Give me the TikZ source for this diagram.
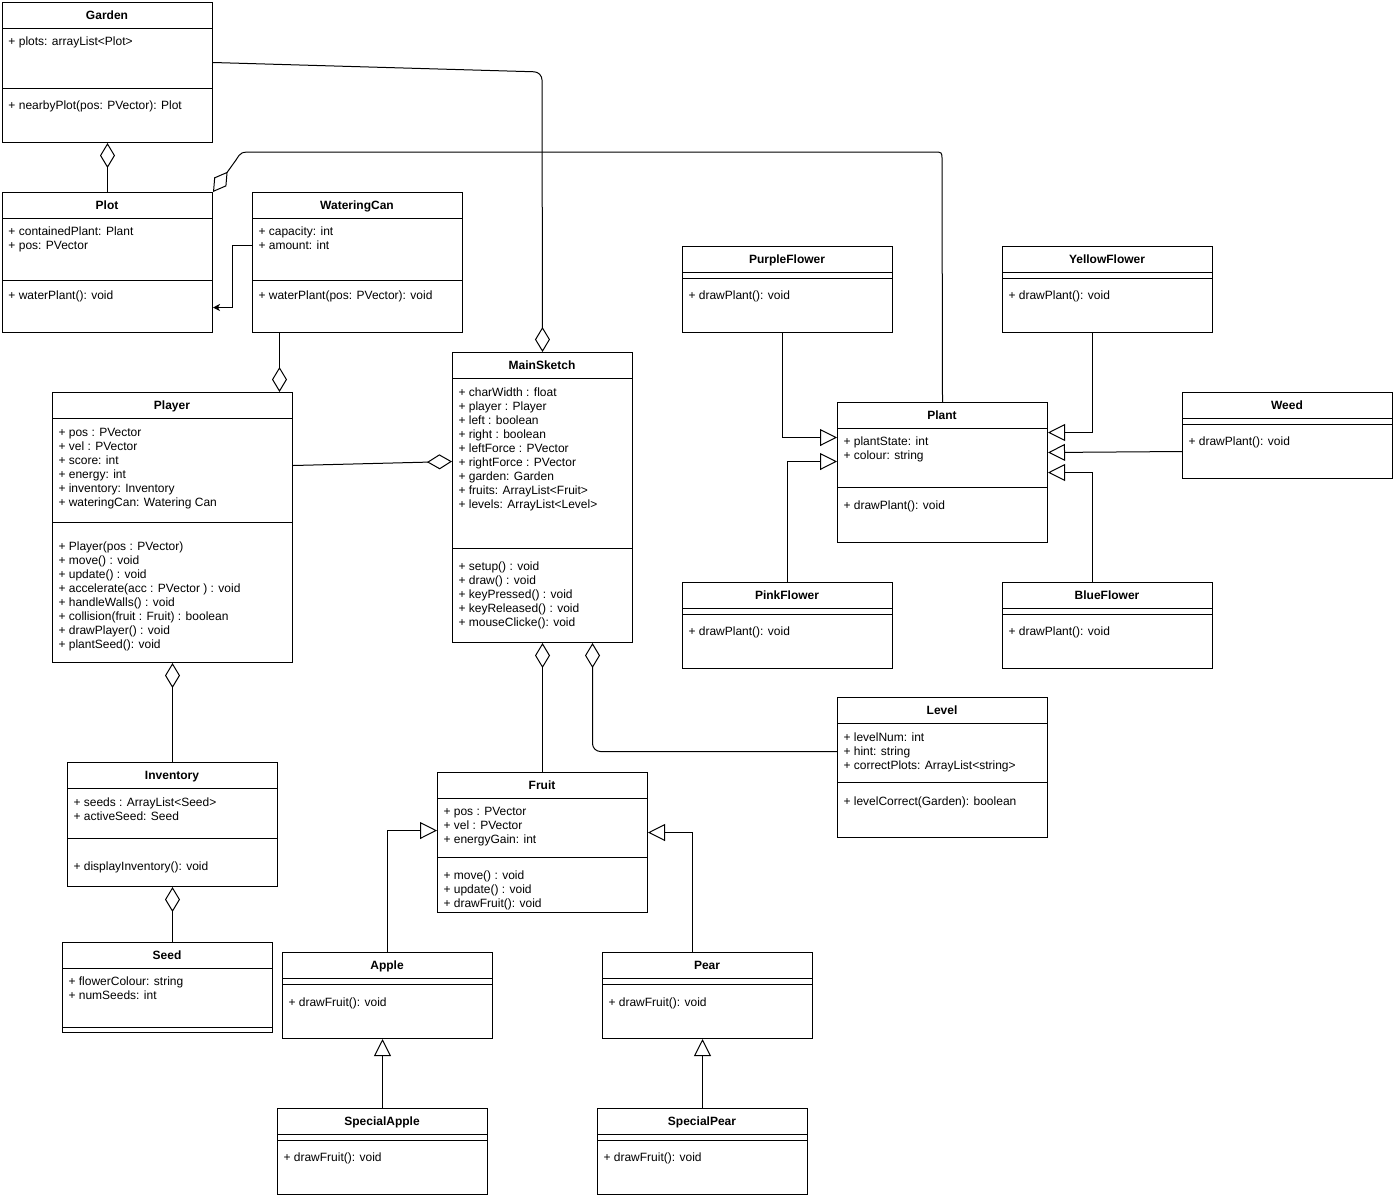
\documentclass[tikz,border=0pt]{standalone}
\usepackage{fontspec}
\setmainfont{Liberation Sans}
\usetikzlibrary{arrows.meta}

\begin{document}
\begin{tikzpicture}[x=1pt, y=-1pt, line width=1pt,
  every node/.style={font=\fontsize{12}{14}\selectfont},
  cls/.style={draw, line width=1pt, anchor=north west, inner sep=0pt},
  ttl/.style={font=\fontsize{12}{14}\selectfont\bfseries, inner sep=0pt,
    text height=8.6pt, text depth=0pt},
  mem/.style={anchor=base west, inner sep=0pt, align=left},
  aggr/.style={{Diamond[open,length=25pt,width=15pt]}-},
  haslink/.style={-{Diamond[open,length=25pt,width=15pt]}},
  inherit/.style={-{Triangle[open,length=17pt,width=17pt]}},
  assoc/.style={-{Stealth[length=7pt,width=7pt,inset=2pt]}}]
\fill[white] (0,0) rectangle (1396,1200);
\useasboundingbox (0,0) rectangle (1396,1200);

% Garden
\node[cls, minimum width=210, minimum height=140] (garden) at (2,2) {};
\node[ttl] at (107,15) {Garden};
\draw (2,28) -- (212,28) (2,88) -- (212,88);
\node[mem] at (8,45.3) {+ plots: arrayList<Plot>};
\node[mem] at (8,109.3) {+ nearbyPlot(pos: PVector): Plot};

% Plot
\node[cls, minimum width=210, minimum height=140] (plot) at (2,192) {};
\node[ttl] at (107,205) {Plot};
\draw (2,218) -- (212,218) (2,280) -- (212,280);
\node[mem] at (8,249.3) {+ containedPlant: Plant\\+ pos: PVector};
\node[mem] at (8,299.3) {+ waterPlant(): void};

% WateringCan
\node[cls, minimum width=210, minimum height=140] (wcan) at (252,192) {};
\node[ttl] at (357,205) {WateringCan};
\draw (252,218) -- (462,218) (252,280) -- (462,280);
\node[mem] at (258,249.3) {+ capacity: int\\+ amount: int};
\node[mem] at (258,299.3) {+ waterPlant(pos: PVector): void};

% Player
\node[cls, minimum width=240, minimum height=270] (player) at (52,392) {};
\node[ttl] at (172,405) {Player};
\draw (52,418) -- (292,418) (52,522) -- (292,522);
\node[mem] at (58,506.3) {+ pos : PVector\\+ vel : PVector\\+ score: int\\+ energy: int\\
  + inventory: Inventory\\+ wateringCan: Watering Can};
\node[mem] at (58,648) {+ Player(pos : PVector)\\+ move() : void\\+ update() : void\\
  + accelerate(acc : PVector ) : void\\+ handleWalls() : void\\
  + collision(fruit : Fruit) : boolean\\+ drawPlayer() : void\\+ plantSeed(): void};

% MainSketch
\node[cls, minimum width=180, minimum height=290] (main) at (452,352) {};
\node[ttl] at (542,365) {MainSketch};
\draw (452,378) -- (632,378) (452,548) -- (632,548);
\node[mem] at (458,508.3) {+ charWidth : float\\+ player : Player\\+ left : boolean\\
  + right : boolean\\+ leftForce : PVector\\+ rightForce : PVector\\+ garden: Garden\\
  + fruits: ArrayList<Fruit>\\+ levels: ArrayList<Level>};
\node[mem] at (458,626.3) {+ setup() : void\\+ draw() : void\\+ keyPressed() : void\\
  + keyReleased() : void\\+ mouseClicke(): void};

% Inventory
\node[cls, minimum width=210, minimum height=124] (inv) at (67,762) {};
\node[ttl] at (172,775) {Inventory};
\draw (67,788) -- (277,788) (67,838) -- (277,838);
\node[mem] at (73,820) {+ seeds : ArrayList<Seed>\\+ activeSeed: Seed};
\node[mem] at (73,870.3) {+ displayInventory(): void};

% Seed
\node[cls, minimum width=210, minimum height=90] (seed) at (62,942) {};
\node[ttl] at (167,955) {Seed};
\draw (62,968) -- (272,968) (62,1027) -- (272,1027);
\node[mem] at (68,999.3) {+ flowerColour: string\\+ numSeeds: int};

% Fruit
\node[cls, minimum width=210, minimum height=140] (fruit) at (437,772) {};
\node[ttl] at (542,785) {Fruit};
\draw (437,798) -- (647,798) (437,857) -- (647,857);
\node[mem] at (443,843.3) {+ pos : PVector\\+ vel : PVector\\+ energyGain: int};
\node[mem] at (443,907.3) {+ move() : void\\+ update() : void\\+ drawFruit(): void};

% Apple and Pear
\node[cls, minimum width=210, minimum height=86] (apple) at (282,952) {};
\node[ttl] at (387,965) {Apple};
\draw (282,978) -- (492,978) (282,984) -- (492,984);
\node[mem] at (288,1006) {+ drawFruit(): void};

\node[cls, minimum width=210, minimum height=86] (pear) at (602,952) {};
\node[ttl] at (707,965) {Pear};
\draw (602,978) -- (812,978) (602,984) -- (812,984);
\node[mem] at (608,1006) {+ drawFruit(): void};

\node[cls, minimum width=210, minimum height=86] (sapple) at (277,1108) {};
\node[ttl] at (382,1121) {SpecialApple};
\draw (277,1134) -- (487,1134) (277,1140) -- (487,1140);
\node[mem] at (283,1161.5) {+ drawFruit(): void};

\node[cls, minimum width=210, minimum height=86] (spear) at (597,1108) {};
\node[ttl] at (702,1121) {SpecialPear};
\draw (597,1134) -- (807,1134) (597,1140) -- (807,1140);
\node[mem] at (603,1161.5) {+ drawFruit(): void};

% Plant and flowers
\node[cls, minimum width=210, minimum height=140] (plant) at (837,402) {};
\node[ttl] at (942,415) {Plant};
\draw (837,428) -- (1047,428) (837,487) -- (1047,487);
\node[mem] at (843,459.3) {+ plantState: int\\+ colour: string};
\node[mem] at (843,509.3) {+ drawPlant(): void};

\node[cls, minimum width=210, minimum height=86] (purple) at (682,246) {};
\node[ttl] at (787,259) {PurpleFlower};
\draw (682,272) -- (892,272) (682,278) -- (892,278);
\node[mem] at (688,299.3) {+ drawPlant(): void};

\node[cls, minimum width=210, minimum height=86] (yellow) at (1002,246) {};
\node[ttl] at (1107,259) {YellowFlower};
\draw (1002,272) -- (1212,272) (1002,278) -- (1212,278);
\node[mem] at (1008,299.3) {+ drawPlant(): void};

\node[cls, minimum width=210, minimum height=86] (pink) at (682,582) {};
\node[ttl] at (787,595) {PinkFlower};
\draw (682,608) -- (892,608) (682,614) -- (892,614);
\node[mem] at (688,635.3) {+ drawPlant(): void};

\node[cls, minimum width=210, minimum height=86] (blue) at (1002,582) {};
\node[ttl] at (1107,595) {BlueFlower};
\draw (1002,608) -- (1212,608) (1002,614) -- (1212,614);
\node[mem] at (1008,635.3) {+ drawPlant(): void};

\node[cls, minimum width=210, minimum height=86] (weed) at (1182,392) {};
\node[ttl] at (1287,405) {Weed};
\draw (1182,418) -- (1392,418) (1182,424) -- (1392,424);
\node[mem] at (1188,445.3) {+ drawPlant(): void};

% Level
\node[cls, minimum width=210, minimum height=140] (level) at (837,697) {};
\node[ttl] at (942,710) {Level};
\draw (837,723) -- (1047,723) (837,782) -- (1047,782);
\node[mem] at (843,769) {+ levelNum: int\\+ hint: string\\+ correctPlots: ArrayList<string>};
\node[mem] at (843,805) {+ levelCorrect(Garden): boolean};

% aggregations
\draw[aggr] (garden.south) -- (plot.north);
\draw[aggr] (plot.north east) -- (236,160) .. controls (241,152) .. (254,152)
  -- (934,152) .. controls (942,152) .. (942,160) -- (plant.north);
\draw[haslink, rounded corners=8pt] ([yshift=10pt]garden.east) -- (542,72) -- (main.north);
\draw[haslink] ([xshift=-78pt]wcan.south) -- ([xshift=-78pt]wcan.south |- player.north);
\draw[haslink] ([yshift=62pt]player.east) -- ([yshift=36pt]main.west);
\draw[aggr] (player.south) -- (inv.north);
\draw[aggr] (inv.south) -- (inv.south |- seed.north);
\draw[aggr] (main.south) -- (fruit.north);
\draw[aggr, rounded corners=8pt] ([xshift=50pt]main.south) |- ([yshift=16pt]level.west);
\draw[assoc] ([yshift=17pt]wcan.west) -- ++(-20,0) |- ([yshift=-45pt]plot.east);

% inheritance
\draw[inherit] (apple.north) |- ([yshift=12pt]fruit.west);
\draw[inherit] ([xshift=-15pt]pear.north) |- ([yshift=10pt]fruit.east);
\draw[inherit] (sapple.north) -- (sapple.north |- apple.south);
\draw[inherit] (spear.north) -- (spear.north |- pear.south);
\draw[inherit] ([xshift=-5pt]purple.south) |- ([yshift=35pt]plant.west);
\draw[inherit] (pink.north) |- ([yshift=11pt]plant.west);
\draw[inherit] ([xshift=-15pt]yellow.south) |- ([yshift=40pt]plant.east);
\draw[inherit] ([yshift=-16pt]weed.west) -- ([yshift=20pt]plant.east);
\draw[inherit] ([xshift=-15pt]blue.north) |- (plant.east);
\end{tikzpicture}
\end{document}
